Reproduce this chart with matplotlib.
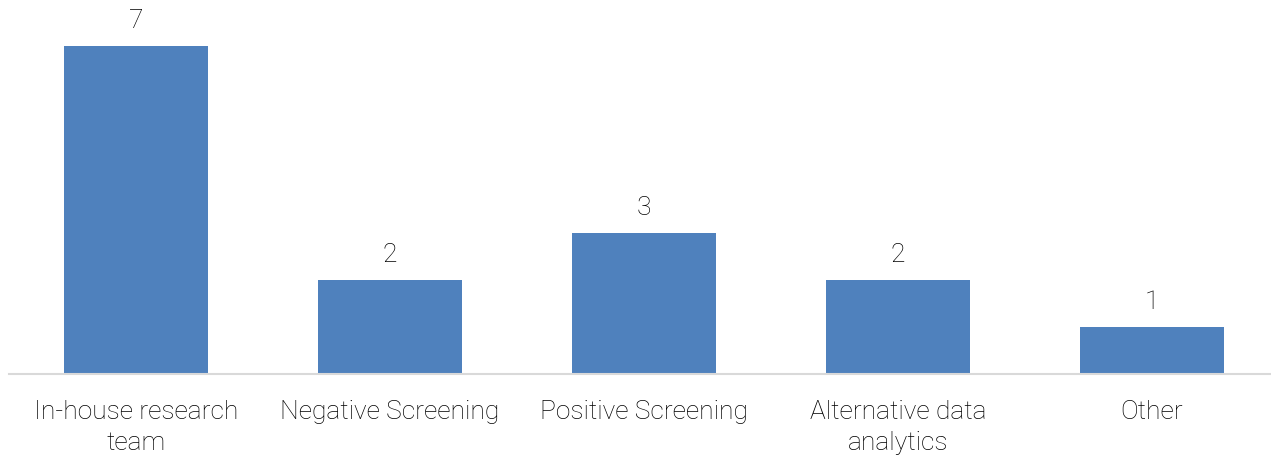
import numpy as np
import matplotlib.pyplot as plt

categories = ['In-house research\nteam', 'Negative Screening', 'Positive Screening',
              'Alternative data\nanalytics', 'Other']
counts = [7, 2, 3, 2, 1]

bar_color = '#4f81bd'
font = {'family': 'Roboto', 'weight': 'light'}

fig = plt.figure(figsize=(12.71, 4.60), dpi=100)
ax = fig.add_axes([9 / 1271, 85 / 460, 1270 / 1271, 375 / 460])

x = np.arange(len(categories))
bars = ax.bar(x, counts, width=0.57, color=bar_color)

for b, v in zip(bars, counts):
    ax.annotate(str(v), (b.get_x() + b.get_width() / 2, v), xytext=(0, 10),
                textcoords='offset points', ha='center', va='bottom',
                fontsize=19, color='#000000', **font)

ax.set_xlim(-0.5, 4.5)
ax.set_ylim(0, 8)
ax.set_xticks(x)
ax.set_xticklabels(categories, fontsize=19, color='#000000', linespacing=1.35, **font)
ax.tick_params(axis='x', length=0, pad=18)
ax.set_yticks([])
for s in ['top', 'right', 'left']:
    ax.spines[s].set_visible(False)
ax.spines['bottom'].set_color('#d9d9d9')
ax.spines['bottom'].set_linewidth(1.5)

fig.savefig('out.png', dpi=100)
